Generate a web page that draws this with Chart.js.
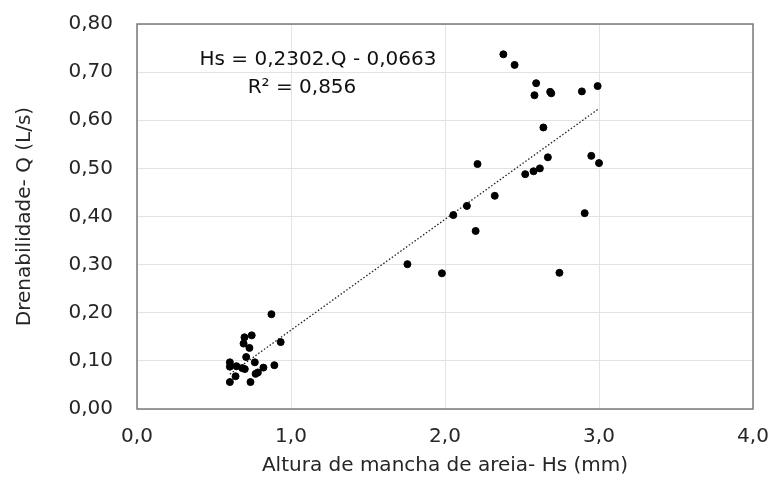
<!DOCTYPE html>
<html>
<head>
<meta charset="utf-8">
<script src="https://cdn.jsdelivr.net/npm/chart.js@4"></script>
<style>
  html, body { margin: 0; padding: 0; background: #fff; }
  #wrap { width: 773px; height: 482px; }
</style>
</head>
<body>
<div id="wrap"><canvas id="chart" width="773" height="482"></canvas></div>
<script>
// Hs (mm) measured values
const hsValues = [
    0.873, 0.745, 0.698, 0.692, 0.730, 0.933, 0.709, 0.603, 0.603, 0.646,
    0.683, 0.700, 0.765, 0.892, 0.821, 0.785, 0.770, 0.640, 0.603, 0.737,
    2.379, 2.452, 2.592, 2.581, 2.683, 2.690, 2.889, 2.991, 2.639, 2.211,
    2.668, 2.950, 3.000, 2.521, 2.575, 2.616, 2.323, 2.142, 2.054, 2.199,
    2.907, 1.756, 1.980, 2.743
];
// Q (L/s) measured values
const qValues = [
    0.197, 0.153, 0.149, 0.136, 0.127, 0.139, 0.108, 0.097, 0.088, 0.089,
    0.085, 0.083, 0.097, 0.091, 0.086, 0.076, 0.073, 0.068, 0.056, 0.056,
    0.737, 0.715, 0.677, 0.652, 0.659, 0.656, 0.660, 0.671, 0.585, 0.509,
    0.523, 0.526, 0.511, 0.488, 0.494, 0.500, 0.443, 0.422, 0.403, 0.370,
    0.407, 0.301, 0.282, 0.283
];

// linear trend shown on the chart
const trendSlope = 0.2302;
const trendIntercept = -0.0663;
const trendLabel = ['Hs = 0,2302.Q - 0,0663', 'R\u00b2 = 0,856'];

const xTitle = 'Altura de mancha de areia- Hs (mm)';
const yTitle = 'Drenabilidade- Q (L/s)';

const points = hsValues.map((x, i) => ({ x: x, y: qValues[i] }));
const xMin = Math.min(...hsValues);
const xMax = Math.max(...hsValues);
const trendPoints = [
    { x: xMin, y: trendSlope * xMin + trendIntercept },
    { x: xMax, y: trendSlope * xMax + trendIntercept }
];

const FONT = '"DejaVu Sans", Arial, sans-serif';
const TEXT = '#262626';

// frame around plot area + equation text
const framePlugin = {
    id: 'frame',
    afterDatasetsDraw(chart) {
        const { ctx, chartArea: a } = chart;
        ctx.save();
        ctx.strokeStyle = '#7a7a7a';
        ctx.lineWidth = 1.5;
        ctx.strokeRect(a.left, a.top, a.right - a.left, a.bottom - a.top);
        ctx.fillStyle = '#111';
        ctx.font = '20px ' + FONT;
        ctx.textAlign = 'center';
        ctx.textBaseline = 'middle';
        ctx.fillText(trendLabel[0], 318, 60);
        ctx.fillText(trendLabel[1], 302, 88);
        ctx.restore();
    }
};

new Chart(document.getElementById('chart'), {
    type: 'scatter',
    data: {
        datasets: [
            {
                label: 'Q',
                data: points,
                backgroundColor: '#000',
                borderColor: '#000',
                pointRadius: 3.5,
                pointHoverRadius: 3.5
            },
            {
                label: 'Linear',
                type: 'line',
                data: trendPoints,
                borderColor: '#222',
                borderWidth: 1.3,
                borderDash: [1.5, 2],
                pointRadius: 0,
                fill: false
            }
        ]
    },
    options: {
        responsive: false,
        animation: false,
        layout: { padding: { top: 24, right: 20, left: 0, bottom: 0 } },
        plugins: {
            legend: { display: false },
            tooltip: { enabled: false }
        },
        scales: {
            x: {
                type: 'linear',
                min: 0,
                max: 4,
                afterFit: (s) => {
                    s.height = 73;
                    s.paddingLeft = 0;
                    s.paddingRight = 0;
                },
                grid: { color: '#e3e3e3', drawTicks: false, lineWidth: 1 },
                border: { display: false },
                ticks: {
                    stepSize: 1,
                    padding: 16,
                    color: TEXT,
                    font: { family: FONT, size: 20 },
                    callback: (v) => v.toFixed(1).replace('.', ',')
                },
                title: {
                    display: true,
                    text: xTitle,
                    color: TEXT,
                    font: { family: FONT, size: 20 },
                    padding: { top: 4 }
                }
            },
            y: {
                min: 0,
                max: 0.8,
                afterFit: (s) => {
                    s.width = 137;
                    s.paddingTop = 0;
                    s.paddingBottom = 0;
                },
                grid: { color: '#e3e3e3', drawTicks: false, lineWidth: 1 },
                border: { display: false },
                ticks: {
                    stepSize: 0.1,
                    padding: 24,
                    color: TEXT,
                    font: { family: FONT, size: 20 },
                    callback: (v) => v.toFixed(2).replace('.', ',')
                },
                title: {
                    display: true,
                    text: yTitle,
                    color: TEXT,
                    font: { family: FONT, size: 20 },
                    padding: { top: 13 }
                }
            }
        }
    },
    plugins: [framePlugin]
});
</script>
</body>
</html>
